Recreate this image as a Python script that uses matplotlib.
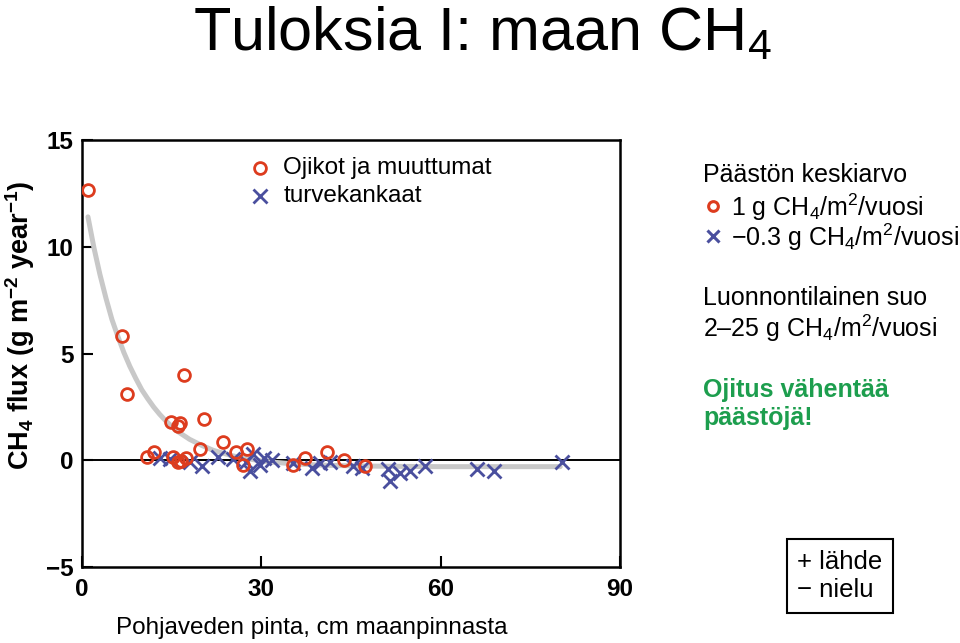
import matplotlib
matplotlib.use("Agg")
import matplotlib.pyplot as plt

plt.rcParams['font.family'] = ['Liberation Sans', 'DejaVu Sans']
plt.rcParams['mathtext.fontset'] = 'custom'
plt.rcParams['mathtext.rm'] = 'Liberation Sans'
plt.rcParams['mathtext.it'] = 'Liberation Sans:italic'
plt.rcParams['mathtext.bf'] = 'Liberation Sans:bold'

# drained / transformed peatlands (circles)
circ_x = [1.0, 6.7, 7.5, 17.1, 14.9, 16.0, 16.4, 20.4, 10.8, 12.0, 15.2, 16.0,
          16.6, 17.4, 19.7, 23.6, 25.7, 27.6, 26.9, 35.3, 37.3, 41.0, 43.8, 47.3]
circ_y = [12.65, 5.8, 3.1, 4.0, 1.8, 1.6, 1.75, 1.95, 0.13, 0.4, 0.15, -0.1,
          -0.05, 0.12, 0.52, 0.85, 0.4, 0.55, -0.2, -0.2, 0.12, 0.4, 0.0, -0.25]

# peat heaths (crosses)
cross_x = [13.0, 14.7, 18.0, 20.0, 22.7, 25.3, 27.5, 28.6, 28.1, 29.8, 30.5, 31.8,
           35.3, 38.5, 39.8, 41.5, 45.3, 46.8, 51.2, 51.5, 53.2, 54.8, 57.4,
           66.0, 69.0, 80.3]
cross_y = [0.1, 0.05, -0.1, -0.25, 0.15, 0.05, -0.1, 0.3, -0.5, -0.2, 0.1, 0.0,
           -0.15, -0.35, -0.15, -0.1, -0.25, -0.35, -0.4, -0.95, -0.6, -0.5, -0.25,
           -0.4, -0.5, -0.1]

# fitted curve
fit_x = [1, 2, 3, 4, 5, 6, 7, 8, 9, 10, 11, 12, 13, 14, 15, 16, 18, 20, 22,
         25, 27, 30, 32, 35, 40, 45, 50, 60, 70, 80]
fit_y = [11.4, 9.95, 8.7, 7.6, 6.6, 5.8, 5.05, 4.4, 3.83, 3.3, 2.88, 2.49, 2.15,
         1.85, 1.59, 1.35, 0.98, 0.7, 0.46, 0.22, 0.1, -0.03, -0.09, -0.16,
         -0.23, -0.26, -0.28, -0.3, -0.3, -0.3]

red = '#dd3c1e'
blue = '#4a4f9e'
green = '#1d9e4e'

fig = plt.figure(figsize=(9.6, 6.43), dpi=100)
ax = fig.add_axes([82/960, 1-567/643, 538/960, 427/643])

ax.axhline(0, color='black', lw=1.4, zorder=1)
ax.plot(fit_x, fit_y, color='#c8c8c8', lw=3.6, solid_capstyle='round', zorder=2)
ax.plot(cross_x, cross_y, ls='none', marker='x', ms=10, mew=2, color=blue, zorder=3)
ax.plot(circ_x, circ_y, ls='none', marker='o', ms=8.5, mew=2, mfc='none', mec=red, zorder=4)

ax.set_xlim(0, 90)
ax.set_ylim(-5, 15)
ax.set_xticks([0, 30, 60, 90])
ax.set_yticks([-5, 0, 5, 10, 15])
ax.set_yticklabels(['\u22125', '0', '5', '10', '15'])
ax.tick_params(direction='in', length=8, width=1.5, labelsize=17.5)
ax.tick_params(axis='x', pad=8)
ax.tick_params(axis='y', pad=6)
for lab in ax.get_xticklabels() + ax.get_yticklabels():
    lab.set_fontweight('bold')
for s in ax.spines.values():
    s.set_linewidth(1.8)


def fy(py):
    return 1 - py/643


fig.text(20/960, fy(325), r'CH$_\mathbf{4}$ flux (g m$^{\mathbf{-2}}$ year$^{\mathbf{-1}}$)',
         fontsize=19.5, fontweight='bold', rotation=90, ha='center', va='center')
fig.text(312/960, fy(628), 'Pohjaveden pinta, cm maanpinnasta', fontsize=17.5,
         ha='center', va='center')

# in-plot legend
ax.plot([0.331], [0.934], transform=ax.transAxes, marker='o', ms=8.5, mew=2,
        mfc='none', mec=red, clip_on=False)
ax.plot([0.331], [0.869], transform=ax.transAxes, marker='x', ms=10, mew=2,
        color=blue, clip_on=False)
ax.text(0.374, 0.934, 'Ojikot ja muuttumat', transform=ax.transAxes,
        fontsize=17.5, va='center')
ax.text(0.374, 0.869, 'turvekankaat', transform=ax.transAxes,
        fontsize=17.5, va='center')

# title
fig.text(482/960, fy(50), r'Tuloksia I: maan CH$_4$', fontsize=44,
         ha='center', va='baseline')

tx = 703/960
fs = 18
fig.text(tx, fy(175), 'Päästön keskiarvo', fontsize=fs, va='center')
fig.text(731/960, fy(207), r'1 g CH$_4$/m$^2$/vuosi', fontsize=fs, va='center')
fig.text(731/960, fy(237), r'$-$0.3 g CH$_4$/m$^2$/vuosi', fontsize=fs, va='center')
fig.lines.append(plt.Line2D([713/960], [fy(206)], transform=fig.transFigure,
                            marker='o', ms=7, mew=2.2, mfc='none', mec=red))
fig.lines.append(plt.Line2D([713/960], [fy(236)], transform=fig.transFigure,
                            marker='x', ms=9, mew=2.2, color=blue))
fig.text(tx, fy(298), 'Luonnontilainen suo', fontsize=fs, va='center')
fig.text(tx, fy(328), r'2–25 g CH$_4$/m$^2$/vuosi', fontsize=fs, va='center')
fig.text(tx, fy(390), 'Ojitus vähentää', fontsize=fs, va='center',
         fontweight='bold', color=green)
fig.text(tx, fy(418), 'päästöjä!', fontsize=fs, va='center',
         fontweight='bold', color=green)

fig.text(797/960, fy(576), '+ lähde\n\u2212 nielu', fontsize=18.5,
         va='center', linespacing=1.25,
         bbox=dict(boxstyle='square,pad=0.4', fc='white', ec='black', lw=1.5))

fig.savefig('out.png', dpi=100)
